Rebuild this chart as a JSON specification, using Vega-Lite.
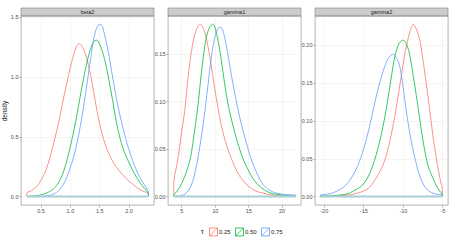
{
  "$schema": "https://vega.github.io/schema/vega-lite/v6.json",
  "padding": {"top": 7, "left": 1, "right": 3, "bottom": 3},
  "datasets": {
    "d": [
      {"panel":"beta2","tau":"0.25","x":0.27,"density":0},
      {"panel":"beta2","tau":"0.25","x":0.27,"density":0.03},
      {"panel":"beta2","tau":"0.25","x":0.35,"density":0.05},
      {"panel":"beta2","tau":"0.25","x":0.45,"density":0.09},
      {"panel":"beta2","tau":"0.25","x":0.5,"density":0.13},
      {"panel":"beta2","tau":"0.25","x":0.6,"density":0.23},
      {"panel":"beta2","tau":"0.25","x":0.7,"density":0.4},
      {"panel":"beta2","tau":"0.25","x":0.8,"density":0.6},
      {"panel":"beta2","tau":"0.25","x":0.9,"density":0.84},
      {"panel":"beta2","tau":"0.25","x":1.0,"density":1.06},
      {"panel":"beta2","tau":"0.25","x":1.05,"density":1.16},
      {"panel":"beta2","tau":"0.25","x":1.1,"density":1.24},
      {"panel":"beta2","tau":"0.25","x":1.15,"density":1.276},
      {"panel":"beta2","tau":"0.25","x":1.2,"density":1.26},
      {"panel":"beta2","tau":"0.25","x":1.25,"density":1.21},
      {"panel":"beta2","tau":"0.25","x":1.3,"density":1.13},
      {"panel":"beta2","tau":"0.25","x":1.35,"density":1.02},
      {"panel":"beta2","tau":"0.25","x":1.4,"density":0.89},
      {"panel":"beta2","tau":"0.25","x":1.5,"density":0.62},
      {"panel":"beta2","tau":"0.25","x":1.6,"density":0.44},
      {"panel":"beta2","tau":"0.25","x":1.7,"density":0.32},
      {"panel":"beta2","tau":"0.25","x":1.8,"density":0.24},
      {"panel":"beta2","tau":"0.25","x":1.9,"density":0.18},
      {"panel":"beta2","tau":"0.25","x":2.0,"density":0.13},
      {"panel":"beta2","tau":"0.25","x":2.1,"density":0.09},
      {"panel":"beta2","tau":"0.25","x":2.2,"density":0.055},
      {"panel":"beta2","tau":"0.25","x":2.33,"density":0.025},
      {"panel":"beta2","tau":"0.25","x":2.33,"density":0},
      {"panel":"beta2","tau":"0.50","x":0.27,"density":0},
      {"panel":"beta2","tau":"0.50","x":0.4,"density":0.004},
      {"panel":"beta2","tau":"0.50","x":0.5,"density":0.012},
      {"panel":"beta2","tau":"0.50","x":0.6,"density":0.028},
      {"panel":"beta2","tau":"0.50","x":0.7,"density":0.055},
      {"panel":"beta2","tau":"0.50","x":0.8,"density":0.11},
      {"panel":"beta2","tau":"0.50","x":0.9,"density":0.22},
      {"panel":"beta2","tau":"0.50","x":1.0,"density":0.4},
      {"panel":"beta2","tau":"0.50","x":1.1,"density":0.63},
      {"panel":"beta2","tau":"0.50","x":1.2,"density":0.9},
      {"panel":"beta2","tau":"0.50","x":1.3,"density":1.14},
      {"panel":"beta2","tau":"0.50","x":1.38,"density":1.27},
      {"panel":"beta2","tau":"0.50","x":1.44,"density":1.304},
      {"panel":"beta2","tau":"0.50","x":1.5,"density":1.28},
      {"panel":"beta2","tau":"0.50","x":1.6,"density":1.13},
      {"panel":"beta2","tau":"0.50","x":1.7,"density":0.88},
      {"panel":"beta2","tau":"0.50","x":1.8,"density":0.6},
      {"panel":"beta2","tau":"0.50","x":1.9,"density":0.41},
      {"panel":"beta2","tau":"0.50","x":2.0,"density":0.29},
      {"panel":"beta2","tau":"0.50","x":2.1,"density":0.19},
      {"panel":"beta2","tau":"0.50","x":2.2,"density":0.11},
      {"panel":"beta2","tau":"0.50","x":2.33,"density":0.03},
      {"panel":"beta2","tau":"0.50","x":2.33,"density":0},
      {"panel":"beta2","tau":"0.75","x":0.27,"density":0},
      {"panel":"beta2","tau":"0.75","x":0.5,"density":0.0},
      {"panel":"beta2","tau":"0.75","x":0.6,"density":0.004},
      {"panel":"beta2","tau":"0.75","x":0.7,"density":0.015},
      {"panel":"beta2","tau":"0.75","x":0.8,"density":0.045},
      {"panel":"beta2","tau":"0.75","x":0.9,"density":0.11},
      {"panel":"beta2","tau":"0.75","x":1.0,"density":0.23},
      {"panel":"beta2","tau":"0.75","x":1.1,"density":0.4},
      {"panel":"beta2","tau":"0.75","x":1.2,"density":0.65},
      {"panel":"beta2","tau":"0.75","x":1.3,"density":0.97},
      {"panel":"beta2","tau":"0.75","x":1.4,"density":1.3},
      {"panel":"beta2","tau":"0.75","x":1.46,"density":1.41},
      {"panel":"beta2","tau":"0.75","x":1.51,"density":1.436},
      {"panel":"beta2","tau":"0.75","x":1.56,"density":1.41},
      {"panel":"beta2","tau":"0.75","x":1.65,"density":1.22},
      {"panel":"beta2","tau":"0.75","x":1.7,"density":1.08},
      {"panel":"beta2","tau":"0.75","x":1.8,"density":0.8},
      {"panel":"beta2","tau":"0.75","x":1.9,"density":0.58},
      {"panel":"beta2","tau":"0.75","x":2.0,"density":0.4},
      {"panel":"beta2","tau":"0.75","x":2.1,"density":0.26},
      {"panel":"beta2","tau":"0.75","x":2.2,"density":0.15},
      {"panel":"beta2","tau":"0.75","x":2.33,"density":0.05},
      {"panel":"beta2","tau":"0.75","x":2.33,"density":0},

      {"panel":"gamma1","tau":"0.25","x":3.9,"density":0},
      {"panel":"gamma1","tau":"0.25","x":3.9,"density":0.017},
      {"panel":"gamma1","tau":"0.25","x":4.5,"density":0.04},
      {"panel":"gamma1","tau":"0.25","x":5.0,"density":0.066},
      {"panel":"gamma1","tau":"0.25","x":5.5,"density":0.09},
      {"panel":"gamma1","tau":"0.25","x":6.0,"density":0.125},
      {"panel":"gamma1","tau":"0.25","x":6.5,"density":0.152},
      {"panel":"gamma1","tau":"0.25","x":7.0,"density":0.17},
      {"panel":"gamma1","tau":"0.25","x":7.5,"density":0.179},
      {"panel":"gamma1","tau":"0.25","x":7.8,"density":0.1806},
      {"panel":"gamma1","tau":"0.25","x":8.2,"density":0.178},
      {"panel":"gamma1","tau":"0.25","x":8.7,"density":0.167},
      {"panel":"gamma1","tau":"0.25","x":9.3,"density":0.145},
      {"panel":"gamma1","tau":"0.25","x":10.0,"density":0.113},
      {"panel":"gamma1","tau":"0.25","x":10.6,"density":0.088},
      {"panel":"gamma1","tau":"0.25","x":11.2,"density":0.068},
      {"panel":"gamma1","tau":"0.25","x":12.0,"density":0.049},
      {"panel":"gamma1","tau":"0.25","x":12.7,"density":0.036},
      {"panel":"gamma1","tau":"0.25","x":13.5,"density":0.024},
      {"panel":"gamma1","tau":"0.25","x":14.3,"density":0.016},
      {"panel":"gamma1","tau":"0.25","x":15.0,"density":0.011},
      {"panel":"gamma1","tau":"0.25","x":16.0,"density":0.006},
      {"panel":"gamma1","tau":"0.25","x":17.2,"density":0.0035},
      {"panel":"gamma1","tau":"0.25","x":18.5,"density":0.0015},
      {"panel":"gamma1","tau":"0.25","x":20.0,"density":0.0005},
      {"panel":"gamma1","tau":"0.25","x":22.0,"density":0},
      {"panel":"gamma1","tau":"0.50","x":3.9,"density":0},
      {"panel":"gamma1","tau":"0.50","x":3.9,"density":0.002},
      {"panel":"gamma1","tau":"0.50","x":4.5,"density":0.007},
      {"panel":"gamma1","tau":"0.50","x":5.2,"density":0.016},
      {"panel":"gamma1","tau":"0.50","x":5.8,"density":0.027},
      {"panel":"gamma1","tau":"0.50","x":6.4,"density":0.042},
      {"panel":"gamma1","tau":"0.50","x":7.0,"density":0.07},
      {"panel":"gamma1","tau":"0.50","x":7.5,"density":0.097},
      {"panel":"gamma1","tau":"0.50","x":8.0,"density":0.13},
      {"panel":"gamma1","tau":"0.50","x":8.5,"density":0.158},
      {"panel":"gamma1","tau":"0.50","x":9.0,"density":0.174},
      {"panel":"gamma1","tau":"0.50","x":9.6,"density":0.1806},
      {"panel":"gamma1","tau":"0.50","x":10.0,"density":0.178},
      {"panel":"gamma1","tau":"0.50","x":10.6,"density":0.16},
      {"panel":"gamma1","tau":"0.50","x":11.2,"density":0.132},
      {"panel":"gamma1","tau":"0.50","x":11.7,"density":0.108},
      {"panel":"gamma1","tau":"0.50","x":12.2,"density":0.09},
      {"panel":"gamma1","tau":"0.50","x":12.7,"density":0.075},
      {"panel":"gamma1","tau":"0.50","x":13.4,"density":0.057},
      {"panel":"gamma1","tau":"0.50","x":14.2,"density":0.04},
      {"panel":"gamma1","tau":"0.50","x":15.0,"density":0.028},
      {"panel":"gamma1","tau":"0.50","x":15.7,"density":0.019},
      {"panel":"gamma1","tau":"0.50","x":16.5,"density":0.012},
      {"panel":"gamma1","tau":"0.50","x":17.6,"density":0.006},
      {"panel":"gamma1","tau":"0.50","x":18.6,"density":0.003},
      {"panel":"gamma1","tau":"0.50","x":19.6,"density":0.002},
      {"panel":"gamma1","tau":"0.50","x":21.0,"density":0.0008},
      {"panel":"gamma1","tau":"0.50","x":22.0,"density":0.0003},
      {"panel":"gamma1","tau":"0.50","x":22.0,"density":0},
      {"panel":"gamma1","tau":"0.75","x":3.9,"density":0},
      {"panel":"gamma1","tau":"0.75","x":5.0,"density":0.001},
      {"panel":"gamma1","tau":"0.75","x":5.7,"density":0.0035},
      {"panel":"gamma1","tau":"0.75","x":6.5,"density":0.012},
      {"panel":"gamma1","tau":"0.75","x":7.2,"density":0.03},
      {"panel":"gamma1","tau":"0.75","x":7.8,"density":0.054},
      {"panel":"gamma1","tau":"0.75","x":8.4,"density":0.083},
      {"panel":"gamma1","tau":"0.75","x":9.0,"density":0.118},
      {"panel":"gamma1","tau":"0.75","x":9.6,"density":0.152},
      {"panel":"gamma1","tau":"0.75","x":10.2,"density":0.172},
      {"panel":"gamma1","tau":"0.75","x":10.8,"density":0.178},
      {"panel":"gamma1","tau":"0.75","x":11.3,"density":0.172},
      {"panel":"gamma1","tau":"0.75","x":11.9,"density":0.152},
      {"panel":"gamma1","tau":"0.75","x":12.5,"density":0.127},
      {"panel":"gamma1","tau":"0.75","x":13.2,"density":0.101},
      {"panel":"gamma1","tau":"0.75","x":13.9,"density":0.078},
      {"panel":"gamma1","tau":"0.75","x":14.7,"density":0.057},
      {"panel":"gamma1","tau":"0.75","x":15.4,"density":0.04},
      {"panel":"gamma1","tau":"0.75","x":16.2,"density":0.026},
      {"panel":"gamma1","tau":"0.75","x":16.9,"density":0.016},
      {"panel":"gamma1","tau":"0.75","x":17.7,"density":0.009},
      {"panel":"gamma1","tau":"0.75","x":18.5,"density":0.0055},
      {"panel":"gamma1","tau":"0.75","x":19.2,"density":0.0035},
      {"panel":"gamma1","tau":"0.75","x":20.5,"density":0.002},
      {"panel":"gamma1","tau":"0.75","x":22.0,"density":0.0015},
      {"panel":"gamma1","tau":"0.75","x":22.0,"density":0},

      {"panel":"gamma2","tau":"0.25","x":-20.38,"density":0},
      {"panel":"gamma2","tau":"0.25","x":-18.5,"density":0.0005},
      {"panel":"gamma2","tau":"0.25","x":-16.8,"density":0.002},
      {"panel":"gamma2","tau":"0.25","x":-15.9,"density":0.004},
      {"panel":"gamma2","tau":"0.25","x":-15.1,"density":0.0065},
      {"panel":"gamma2","tau":"0.25","x":-14.2,"density":0.012},
      {"panel":"gamma2","tau":"0.25","x":-13.4,"density":0.024},
      {"panel":"gamma2","tau":"0.25","x":-12.7,"density":0.037},
      {"panel":"gamma2","tau":"0.25","x":-12.1,"density":0.054},
      {"panel":"gamma2","tau":"0.25","x":-11.5,"density":0.08},
      {"panel":"gamma2","tau":"0.25","x":-10.9,"density":0.113},
      {"panel":"gamma2","tau":"0.25","x":-10.3,"density":0.152},
      {"panel":"gamma2","tau":"0.25","x":-9.8,"density":0.185},
      {"panel":"gamma2","tau":"0.25","x":-9.3,"density":0.21},
      {"panel":"gamma2","tau":"0.25","x":-8.9,"density":0.224},
      {"panel":"gamma2","tau":"0.25","x":-8.7,"density":0.2266},
      {"panel":"gamma2","tau":"0.25","x":-8.4,"density":0.223},
      {"panel":"gamma2","tau":"0.25","x":-7.9,"density":0.208},
      {"panel":"gamma2","tau":"0.25","x":-7.5,"density":0.183},
      {"panel":"gamma2","tau":"0.25","x":-7.06,"density":0.15},
      {"panel":"gamma2","tau":"0.25","x":-6.6,"density":0.113},
      {"panel":"gamma2","tau":"0.25","x":-6.2,"density":0.08},
      {"panel":"gamma2","tau":"0.25","x":-5.8,"density":0.052},
      {"panel":"gamma2","tau":"0.25","x":-5.5,"density":0.034},
      {"panel":"gamma2","tau":"0.25","x":-5.2,"density":0.018},
      {"panel":"gamma2","tau":"0.25","x":-5.04,"density":0.011},
      {"panel":"gamma2","tau":"0.25","x":-5.04,"density":0},
      {"panel":"gamma2","tau":"0.50","x":-20.38,"density":0},
      {"panel":"gamma2","tau":"0.50","x":-20.38,"density":0.0005},
      {"panel":"gamma2","tau":"0.50","x":-19.0,"density":0.001},
      {"panel":"gamma2","tau":"0.50","x":-17.2,"density":0.003},
      {"panel":"gamma2","tau":"0.50","x":-16.1,"density":0.008},
      {"panel":"gamma2","tau":"0.50","x":-15.1,"density":0.015},
      {"panel":"gamma2","tau":"0.50","x":-14.2,"density":0.03},
      {"panel":"gamma2","tau":"0.50","x":-13.4,"density":0.054},
      {"panel":"gamma2","tau":"0.50","x":-12.7,"density":0.083},
      {"panel":"gamma2","tau":"0.50","x":-12.1,"density":0.115},
      {"panel":"gamma2","tau":"0.50","x":-11.6,"density":0.148},
      {"panel":"gamma2","tau":"0.50","x":-11.1,"density":0.18},
      {"panel":"gamma2","tau":"0.50","x":-10.6,"density":0.199},
      {"panel":"gamma2","tau":"0.50","x":-10.2,"density":0.205},
      {"panel":"gamma2","tau":"0.50","x":-9.93,"density":0.2057},
      {"panel":"gamma2","tau":"0.50","x":-9.6,"density":0.202},
      {"panel":"gamma2","tau":"0.50","x":-9.2,"density":0.19},
      {"panel":"gamma2","tau":"0.50","x":-8.8,"density":0.166},
      {"panel":"gamma2","tau":"0.50","x":-8.3,"density":0.133},
      {"panel":"gamma2","tau":"0.50","x":-7.8,"density":0.097},
      {"panel":"gamma2","tau":"0.50","x":-7.3,"density":0.064},
      {"panel":"gamma2","tau":"0.50","x":-6.8,"density":0.04},
      {"panel":"gamma2","tau":"0.50","x":-6.2,"density":0.024},
      {"panel":"gamma2","tau":"0.50","x":-5.6,"density":0.011},
      {"panel":"gamma2","tau":"0.50","x":-5.04,"density":0.003},
      {"panel":"gamma2","tau":"0.50","x":-5.04,"density":0},
      {"panel":"gamma2","tau":"0.75","x":-20.38,"density":0},
      {"panel":"gamma2","tau":"0.75","x":-20.38,"density":0.002},
      {"panel":"gamma2","tau":"0.75","x":-19.6,"density":0.003},
      {"panel":"gamma2","tau":"0.75","x":-18.9,"density":0.0045},
      {"panel":"gamma2","tau":"0.75","x":-18.0,"density":0.009},
      {"panel":"gamma2","tau":"0.75","x":-17.2,"density":0.015},
      {"panel":"gamma2","tau":"0.75","x":-16.3,"density":0.028},
      {"panel":"gamma2","tau":"0.75","x":-15.5,"density":0.046},
      {"panel":"gamma2","tau":"0.75","x":-14.7,"density":0.072},
      {"panel":"gamma2","tau":"0.75","x":-14.0,"density":0.102},
      {"panel":"gamma2","tau":"0.75","x":-13.3,"density":0.135},
      {"panel":"gamma2","tau":"0.75","x":-12.5,"density":0.165},
      {"panel":"gamma2","tau":"0.75","x":-11.9,"density":0.181},
      {"panel":"gamma2","tau":"0.75","x":-11.3,"density":0.1874},
      {"panel":"gamma2","tau":"0.75","x":-10.9,"density":0.184},
      {"panel":"gamma2","tau":"0.75","x":-10.4,"density":0.172},
      {"panel":"gamma2","tau":"0.75","x":-10.0,"density":0.146},
      {"panel":"gamma2","tau":"0.75","x":-9.6,"density":0.115},
      {"panel":"gamma2","tau":"0.75","x":-9.2,"density":0.088},
      {"panel":"gamma2","tau":"0.75","x":-8.75,"density":0.063},
      {"panel":"gamma2","tau":"0.75","x":-8.3,"density":0.043},
      {"panel":"gamma2","tau":"0.75","x":-7.9,"density":0.028},
      {"panel":"gamma2","tau":"0.75","x":-7.3,"density":0.014},
      {"panel":"gamma2","tau":"0.75","x":-6.6,"density":0.0065},
      {"panel":"gamma2","tau":"0.75","x":-5.8,"density":0.003},
      {"panel":"gamma2","tau":"0.75","x":-5.04,"density":0.002},
      {"panel":"gamma2","tau":"0.75","x":-5.04,"density":0}
    ]
  },
  "concat": [
    {
      "width": 133, "height": 8,
      "data": {"values": [{"label": "beta2"}]},
      "layer": [
        {"mark": {"type": "rect", "fill": "#cccccc", "stroke": "#808080", "strokeWidth": 0.6}, "encoding": {}},
        {"mark": {"type": "text", "fontSize": 5.5, "color": "#1a1a1a", "baseline": "middle"}, "encoding": {"text": {"field": "label"}}}
      ]
    },
    {
      "width": 133, "height": 8,
      "data": {"values": [{"label": "gamma1"}]},
      "layer": [
        {"mark": {"type": "rect", "fill": "#cccccc", "stroke": "#808080", "strokeWidth": 0.6}, "encoding": {}},
        {"mark": {"type": "text", "fontSize": 5.5, "color": "#1a1a1a", "baseline": "middle"}, "encoding": {"text": {"field": "label"}}}
      ]
    },
    {
      "width": 133, "height": 8,
      "data": {"values": [{"label": "gamma2"}]},
      "layer": [
        {"mark": {"type": "rect", "fill": "#cccccc", "stroke": "#808080", "strokeWidth": 0.6}, "encoding": {}},
        {"mark": {"type": "text", "fontSize": 5.5, "color": "#1a1a1a", "baseline": "middle"}, "encoding": {"text": {"field": "label"}}}
      ]
    },
    {
      "width": 133, "height": 189,
      "data": {"name": "d"},
      "transform": [{"filter": "datum.panel === 'beta2'"}],
      "layer": [
        {
          "mark": {"type": "line", "interpolate": "cardinal", "strokeWidth": 0.8},
          "encoding": {
            "x": {"field": "x", "type": "quantitative", "scale": {"domain": [0.167, 2.433], "nice": false, "zero": false}, "axis": {"values": [0.5, 1, 1.5, 2], "format": ".1f", "title": null}},
            "y": {"field": "density", "type": "quantitative", "scale": {"domain": [-0.072, 1.508], "nice": false, "zero": false}, "axis": {"values": [0, 0.5, 1, 1.5], "format": ".1f", "title": "density"}},
            "color": {"field": "tau", "type": "nominal", "scale": {"domain": ["0.25", "0.50", "0.75"], "range": ["#F8766D", "#00BA38", "#619CFF"]}, "legend": {"title": "τ", "orient": "none", "legendX": 180, "legendY": 219}}
          }
        },
        {
          "transform": [{"aggregate": [{"op": "min", "field": "x", "as": "x0"}, {"op": "max", "field": "x", "as": "x1"}]}],
          "mark": {"type": "rule", "color": "#a8cfd8", "strokeWidth": 2},
          "encoding": {"x": {"field": "x0", "type": "quantitative"}, "x2": {"field": "x1"}, "y": {"datum": 0}}
        }
      ]
    },
    {
      "width": 133, "height": 189,
      "data": {"name": "d"},
      "transform": [{"filter": "datum.panel === 'gamma1'"}],
      "layer": [
        {
          "mark": {"type": "line", "interpolate": "cardinal", "strokeWidth": 0.8},
          "encoding": {
            "x": {"field": "x", "type": "quantitative", "scale": {"domain": [3.0, 22.9], "nice": false, "zero": false}, "axis": {"values": [5, 10, 15, 20], "format": "d", "title": null}},
            "y": {"field": "density", "type": "quantitative", "scale": {"domain": [-0.009, 0.1896], "nice": false, "zero": false}, "axis": {"values": [0, 0.05, 0.1, 0.15], "format": ".2f", "title": null}},
            "color": {"field": "tau", "type": "nominal", "scale": {"domain": ["0.25", "0.50", "0.75"], "range": ["#F8766D", "#00BA38", "#619CFF"]}, "legend": {"title": "τ", "orient": "none", "legendX": 180, "legendY": 219}}
          }
        },
        {
          "transform": [{"aggregate": [{"op": "min", "field": "x", "as": "x0"}, {"op": "max", "field": "x", "as": "x1"}]}],
          "mark": {"type": "rule", "color": "#a8cfd8", "strokeWidth": 2},
          "encoding": {"x": {"field": "x0", "type": "quantitative"}, "x2": {"field": "x1"}, "y": {"datum": 0}}
        }
      ]
    },
    {
      "width": 133, "height": 189,
      "data": {"name": "d"},
      "transform": [{"filter": "datum.panel === 'gamma2'"}],
      "layer": [
        {
          "mark": {"type": "line", "interpolate": "cardinal", "strokeWidth": 0.8},
          "encoding": {
            "x": {"field": "x", "type": "quantitative", "scale": {"domain": [-21.1, -4.3], "nice": false, "zero": false}, "axis": {"values": [-20, -15, -10, -5], "labelExpr": "'' + datum.value", "title": null}},
            "y": {"field": "density", "type": "quantitative", "scale": {"domain": [-0.0113, 0.238], "nice": false, "zero": false}, "axis": {"values": [0, 0.05, 0.1, 0.15, 0.2], "format": ".2f", "title": null}},
            "color": {"field": "tau", "type": "nominal", "scale": {"domain": ["0.25", "0.50", "0.75"], "range": ["#F8766D", "#00BA38", "#619CFF"]}, "legend": {"title": "τ", "orient": "none", "legendX": 180, "legendY": 219}}
          }
        },
        {
          "transform": [{"aggregate": [{"op": "min", "field": "x", "as": "x0"}, {"op": "max", "field": "x", "as": "x1"}]}],
          "mark": {"type": "rule", "color": "#a8cfd8", "strokeWidth": 2},
          "encoding": {"x": {"field": "x0", "type": "quantitative"}, "x2": {"field": "x1"}, "y": {"datum": 0}}
        }
      ]
    }
  ],
  "columns": 3,
  "spacing": {"row": 0, "column": 14},
  "bounds": "flush",
  "config": {
    "font": "Liberation Sans",
    "view": {"stroke": "#808080", "strokeWidth": 0.6},
    "axis": {
      "domain": false,
      "labelFontSize": 5.5,
      "labelColor": "#4d4d4d",
      "tickColor": "#808080",
      "tickSize": 2,
      "tickWidth": 0.6,
      "labelPadding": 1,
      "gridColor": "#ebebeb",
      "gridWidth": 0.5,
      "titleFontSize": 6.5,
      "titleFontWeight": "normal",
      "titleColor": "#1a1a1a",
      "titlePadding": 3
    },
    "legend": {
      "direction": "horizontal",
      "titleOrient": "left",
      "titleFontSize": 7,
      "titleFontWeight": "normal",
      "titleColor": "#1a1a1a",
      "labelFontSize": 6,
      "labelColor": "#1a1a1a",
      "symbolType": "M-1,-1L1,-1L1,1L-1,1Z M-1,1L1,-1",
      "symbolSize": 64,
      "symbolStrokeWidth": 0.8,
      "symbolFillColor": "transparent",
      "labelOffset": 1,
      "columnPadding": 2
    }
  }
}
